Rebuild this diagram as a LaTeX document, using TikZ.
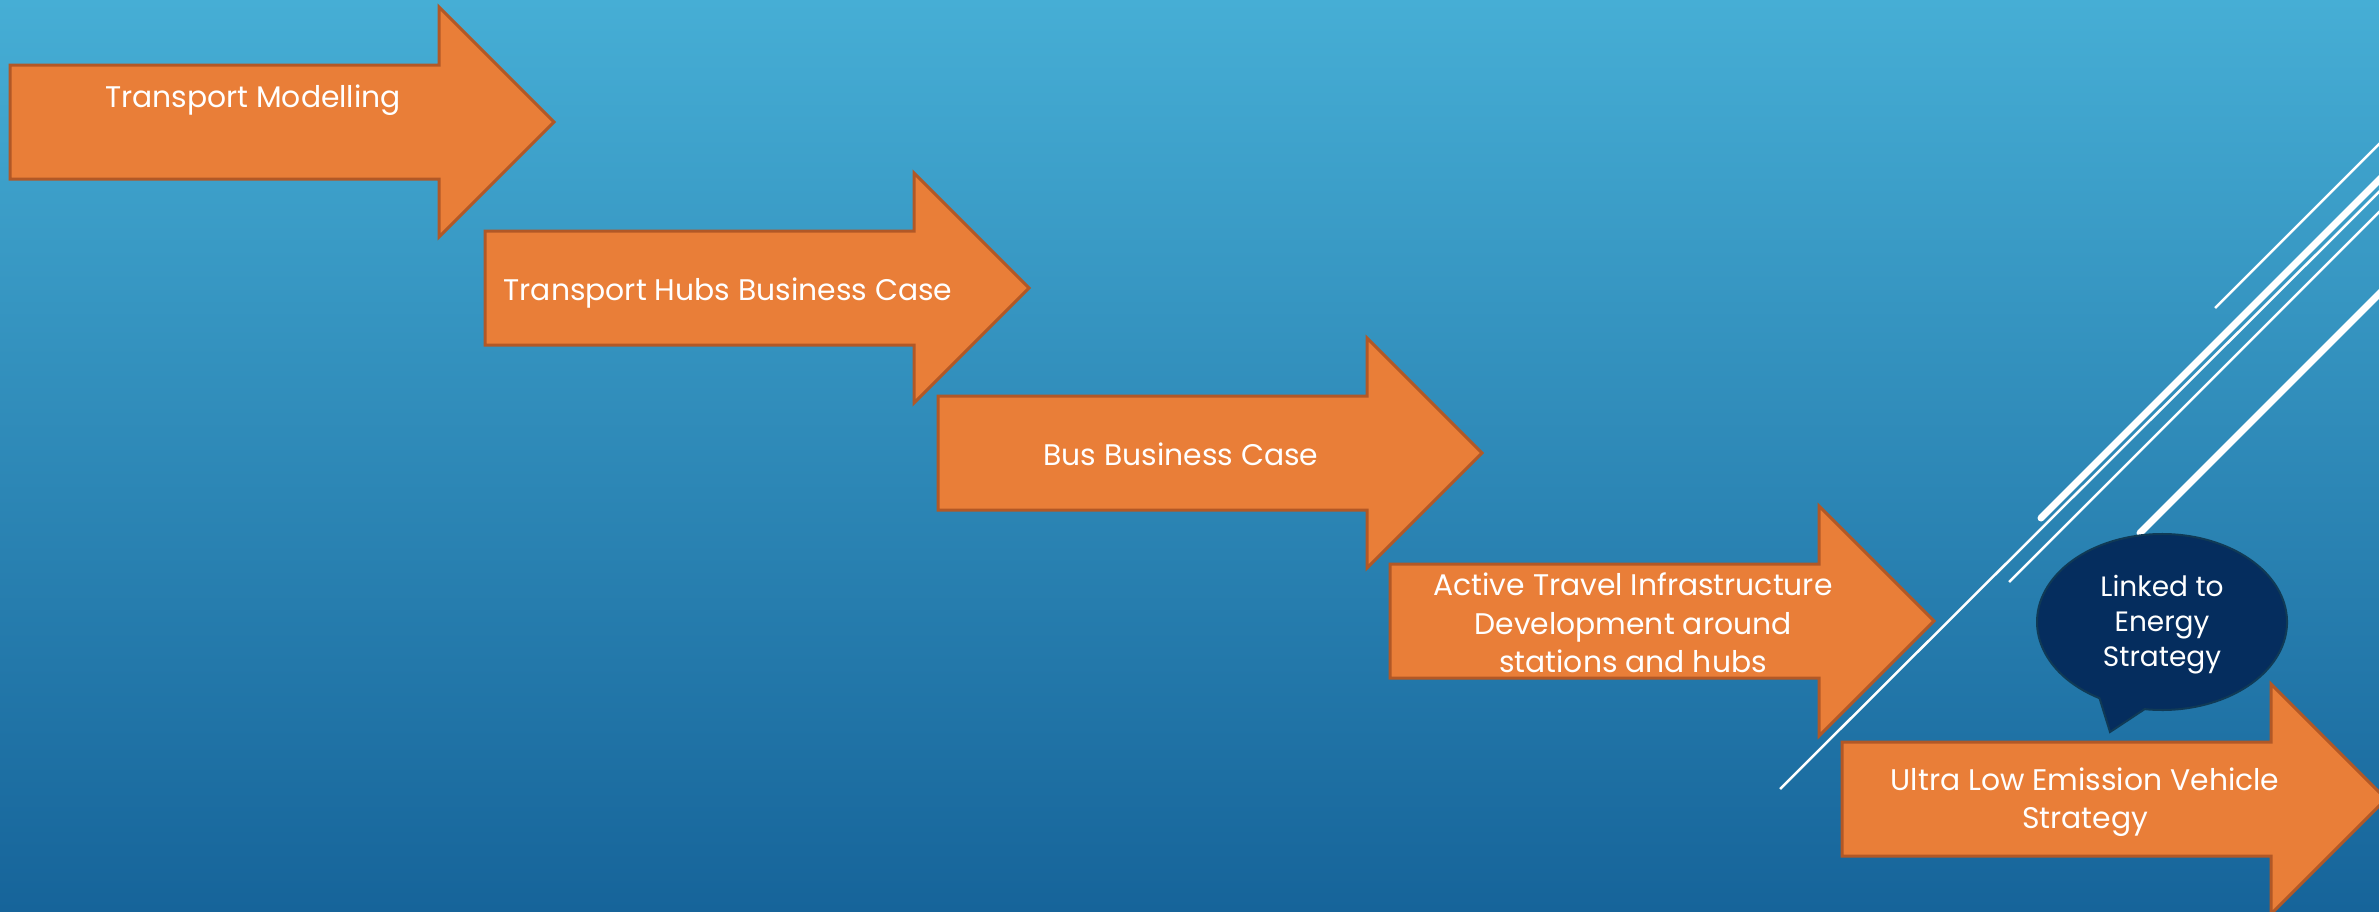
\documentclass[tikz,border=0pt]{standalone}
\usepackage{fontspec}
\setmainfont{Poppins}
\usetikzlibrary{calc}
\definecolor{skytop}{RGB}{70,174,213}
\definecolor{skybottom}{RGB}{22,100,154}
\definecolor{stepfill}{RGB}{233,126,56}
\definecolor{stepedge}{RGB}{178,88,38}
\definecolor{bubblefill}{RGB}{5,45,94}
\definecolor{bubbleedge}{RGB}{16,58,86}
\def\bodylen{429}
\def\headlen{115}
\def\headext{58}
\tikzset{
  stepshape/.style = {fill = stepfill, draw = stepedge, line width = 3pt, line join = miter},
  steptext/.style = {text = white, align = center, inner sep = 0pt,
    font = \fontsize{29.8}{38.5}\selectfont},
  bubbleshape/.style = {fill = bubblefill, draw = bubbleedge, line width = 2pt},
  bubbletext/.style = {text = white, align = center, inner sep = 0pt,
    font = \fontsize{28}{35}\selectfont},
  slashthin/.style = {draw = white, line width = 2.5pt},
  slashthick/.style = {draw = white, line width = 7pt, line cap = round}
}

\begin{document}
\begin{tikzpicture} [x = 1pt, y = -1pt]
    \useasboundingbox (0, 0) rectangle (2379, 911);
    \clip (0, 0) rectangle (2379, 911);
    \shade[top color = skytop, bottom color = skybottom] (0, 0) rectangle (2379, 911);

    \coordinate (a1) at (10, 65);
    \coordinate (a2) at (485, 231);
    \coordinate (a3) at (938, 396);
    \coordinate (a4) at (1390, 564);
    \coordinate (a5) at (1842, 742);
    \coordinate (bc) at (2162, 622);
    \coordinate (tail) at (2110, 732);

    \draw[slashthin] (2215, 308) -- (2400, 123);
    \draw[slashthick] (2041, 518) -- (2420, 139);
    \draw[slashthin] (1780, 789) -- (2400, 171);
    \draw[slashthin] (2009, 582) -- (2400, 191);
    \draw[slashthick] (2140, 533) -- (2420, 253);

    \foreach \p in {a1, a2, a3, a4, a5}
      \draw[stepshape] (\p) -- ++(\bodylen, 0) -- ++(0, -\headext)
        -- ++(\headlen, \headlen) -- ++(-\headlen, \headlen)
        -- ++(0, -\headext) -- ++(-\bodylen, 0) -- cycle;

    \node[steptext, anchor = base] (tm) at ($(a1) + (243, 42)$) {Transport Modelling};
    \node[steptext, anchor = base] (thb) at ($(a2) + (243, 69)$) {Transport Hubs Business Case};
    \node[steptext, anchor = base] (bbc) at ($(a3) + (243, 69)$) {Bus Business Case};
    \node[steptext] (atid) at ($(a4) + (243, 59)$)
      {Active Travel Infrastructure\\ Development around\\ stations and hubs};
    \node[steptext] (ulev) at ($(a5) + (243, 60)$)
      {Ultra Low Emission Vehicle\\ Strategy};

    \draw[bubbleshape] (tail) -- ($(bc) + (120:125 and 88)$)
      arc[start angle = 120, end angle = 458, x radius = 125, y radius = 88] -- cycle;
    \node[bubbletext] (link) at ($(bc) + (0, 3)$) {Linked to\\ Energy\\ Strategy};
  \end{tikzpicture}
\end{document}
